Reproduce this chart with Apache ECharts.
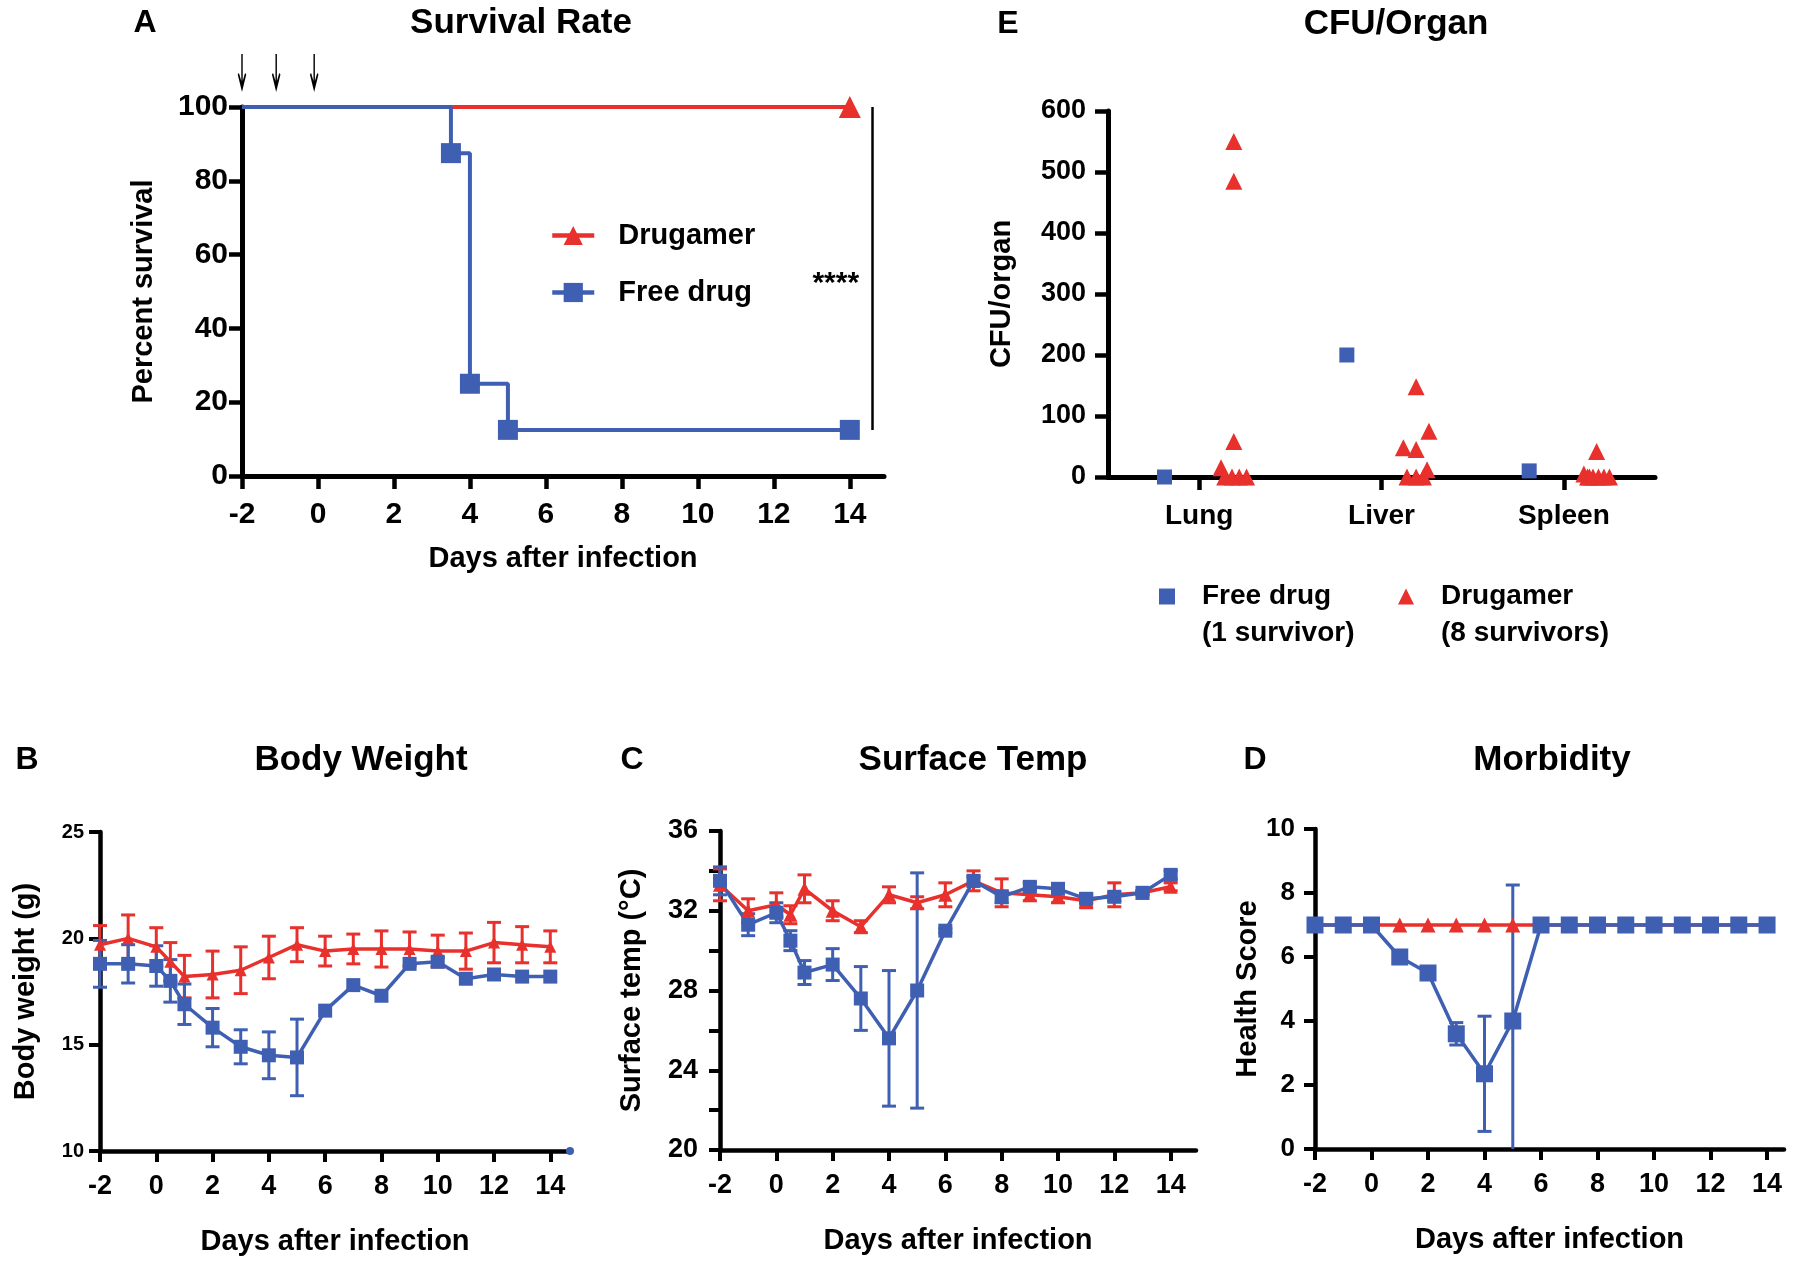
<!DOCTYPE html>
<html>
<head>
<meta charset="utf-8">
<title>Drugamer vs free drug</title>
<script src="https://cdn.jsdelivr.net/npm/echarts@6/dist/echarts.min.js"></script>
<style>
  html, body { margin: 0; padding: 0; background: #fff; }
  #chart { width: 1800px; height: 1265px; }
</style>
</head>
<body>
<div id="chart"></div>
<script>
var RED = '#e8302c';
var BLUE = '#3e5fb2';
var FONT = '"Liberation Sans", Arial, sans-serif';

// A - survival (Kaplan-Meier steps)
var survivalDrugamer = [[-2, 100], [14, 100]];
var survivalFreeDrug = [[-2, 100], [3.5, 87.5], [4, 25], [5, 12.5], [14, 12.5]];
var doseDays = [-2, -1.1, -0.1];
var evenDays = [-2, 0, 2, 4, 6, 8, 10, 12, 14];

// B / C - measured days
var days = [-2, -1, 0, 0.5, 1, 2, 3, 4, 5, 6, 7, 8, 9, 10, 11, 12, 13, 14];

var weightDrugamer = [19.7, 20.0, 19.6, 18.9, 18.2, 18.3, 18.5, 19.1, 19.7, 19.4, 19.5, 19.5, 19.5, 19.4, 19.4, 19.8, 19.7, 19.6];
var weightDrugamerSd = [0.9, 1.1, 0.9, 0.9, 1.0, 1.1, 1.1, 1.0, 0.8, 0.7, 0.7, 0.85, 0.8, 0.75, 0.85, 0.95, 0.85, 0.75];
var weightFreeDrug = [18.8, 18.8, 18.7, 18.0, 16.9, 15.8, 14.9, 14.5, 14.4, 16.6, 17.8, 17.3, 18.8, 18.9, 18.1, 18.3, 18.2, 18.2];
var weightFreeDrugSd = [1.1, 0.9, 0.95, 1.0, 0.95, 0.9, 0.8, 1.1, 1.8, 0, 0, 0, 0, 0.2, 0, 0, 0, 0];
var weightEndDot = [[14.7, 10]];

var tempDrugamer = [33.3, 32.0, 32.3, 31.8, 33.1, 32.0, 31.2, 32.8, 32.4, 32.8, 33.5, 32.9, 32.8, 32.7, 32.5, 32.8, 32.9, 33.2];
var tempDrugamerSd = [0.8, 0.6, 0.6, 0.45, 0.7, 0.5, 0.3, 0.4, 0.3, 0.6, 0.5, 0.7, 0.3, 0.3, 0.35, 0.6, 0.1, 0.2];
var tempFreeDrug = [33.5, 31.3, 31.9, 30.5, 28.9, 29.3, 27.6, 25.6, 28.0, 31.0, 33.5, 32.7, 33.2, 33.1, 32.6, 32.7, 32.9, 33.8];
var tempFreeDrugSd = [0.7, 0.55, 0.5, 0.5, 0.6, 0.8, 1.6, 3.4, 5.9, 0.1, 0.2, 0.3, 0.2, 0.2, 0.2, 0.2, 0.1, 0.2];

// D - health score
var scoreDays = [-2, -1, 0, 1, 2, 3, 4, 5, 6, 7, 8, 9, 10, 11, 12, 13, 14];
var scoreDrugamer = [7, 7, 7, 7, 7, 7, 7, 7, 7, 7, 7, 7, 7, 7, 7, 7, 7];
var scoreFreeDrug = [7, 7, 7, 6.0, 5.5, 3.6, 2.35, 4.0, 7, 7, 7, 7, 7, 7, 7, 7, 7];
var scoreFreeDrugSd = [0, 0, 0, 0, 0, 0.35, 1.8, 4.25, 0, 0, 0, 0, 0, 0, 0, 0, 0];

// E - CFU per organ
var organs = ['Lung', 'Liver', 'Spleen'];
var cfuFreeDrug = [0, 200, 10];
var cfuFreeDrugShift = [-0.19, -0.19, -0.19];
var cfuDrugamer = [
  [550, 485, 58, 15, 0, 0, 0, 0],
  [148, 75, 48, 45, 12, 0, 0, 0],
  [42, 5, 0, 0, 0, 0, 0, 0]
];
var cfuDrugamerShift = [
  [0.19, 0.19, 0.19, 0.12, 0.14, 0.18, 0.22, 0.26],
  [0.19, 0.26, 0.12, 0.19, 0.25, 0.14, 0.19, 0.23],
  [0.18, 0.11, 0.13, 0.16, 0.19, 0.22, 0.25, 0.14]
];

function pairs(xs, ys) {
  return xs.map(function (x, i) { return [x, ys[i]]; });
}

function errorBars(xs, ys, sds) {
  var out = [];
  xs.forEach(function (x, i) {
    if (sds[i] > 0) out.push([x, ys[i] - sds[i], ys[i] + sds[i]]);
  });
  return out;
}

function renderErrorBar(params, api) {
  var x = api.value(0);
  var lo = api.coord([x, api.value(1)]);
  var hi = api.coord([x, api.value(2)]);
  var bottom = params.coordSys.y + params.coordSys.height;
  var half = 7;
  var style = { stroke: api.visual('color'), lineWidth: 3, fill: null };
  var children = [
    { type: 'line', shape: { x1: hi[0], y1: hi[1], x2: hi[0], y2: Math.min(lo[1], bottom) }, style: style },
    { type: 'line', shape: { x1: hi[0] - half, y1: hi[1], x2: hi[0] + half, y2: hi[1] }, style: style }
  ];
  if (lo[1] <= bottom) {
    children.push({ type: 'line', shape: { x1: lo[0] - half, y1: lo[1], x2: lo[0] + half, y2: lo[1] }, style: style });
  }
  return { type: 'group', children: children };
}

function bold(size) {
  return { fontSize: size, fontWeight: 'bold', color: '#000', fontFamily: FONT };
}

function axisParts(lineWidth, tickLen) {
  return {
    axisLine: { show: true, onZero: false, lineStyle: { color: '#000', width: lineWidth } },
    axisTick: { show: true, length: tickLen, lineStyle: { color: '#000', width: lineWidth - 0.5 } },
    splitLine: { show: false }
  };
}

function dayAxis(gridIndex, max, nameGap, labelMargin, labelSize, lineWidth, tickLen) {
  var a = axisParts(lineWidth, tickLen);
  a.type = 'value';
  a.gridIndex = gridIndex;
  a.min = -2;
  a.max = max;
  a.name = 'Days after infection';
  a.nameLocation = 'middle';
  a.nameGap = nameGap;
  a.nameTextStyle = bold(29);
  a.axisTick.customValues = evenDays;
  a.axisLabel = Object.assign({ customValues: evenDays, margin: labelMargin }, bold(labelSize));
  return a;
}

function valueAxis(gridIndex, name, min, max, interval, nameGap, labelMargin, labelSize, lineWidth, tickLen) {
  var a = axisParts(lineWidth, tickLen);
  a.type = 'value';
  a.gridIndex = gridIndex;
  a.min = min;
  a.max = max;
  a.interval = interval;
  a.name = name;
  a.nameLocation = 'middle';
  a.nameGap = nameGap;
  a.nameTextStyle = bold(29);
  a.axisLabel = Object.assign({ margin: labelMargin }, bold(labelSize));
  return a;
}

function meanLine(name, xi, yi, data, color, symbol, size) {
  return {
    name: name, type: 'line', xAxisIndex: xi, yAxisIndex: yi,
    data: data, symbol: symbol, symbolSize: size, showSymbol: true,
    lineStyle: { color: color, width: 3.5 },
    itemStyle: { color: color },
    z: 3
  };
}

function errSeries(name, xi, yi, data, color) {
  return {
    name: name, type: 'custom', xAxisIndex: xi, yAxisIndex: yi,
    renderItem: renderErrorBar, data: data,
    encode: { x: 0, y: [1, 2] },
    itemStyle: { color: color },
    z: 2
  };
}

var chart = echarts.init(document.getElementById('chart'));

var firstNoSymbol = function (p, i) { return i === 0 ? { value: p, symbol: 'none' } : p; };

var cfuFreeDrugPoints = organs.map(function (o, i) {
  return [i + 0.5 + cfuFreeDrugShift[i], cfuFreeDrug[i]];
});
var cfuDrugamerPoints = [];
cfuDrugamer.forEach(function (vals, i) {
  vals.forEach(function (v, j) {
    cfuDrugamerPoints.push([i + 0.5 + cfuDrugamerShift[i][j], v]);
  });
});

var organTicks = [0.5, 1.5, 2.5];

var eXAxis = axisParts(5, 13);
eXAxis.type = 'value';
eXAxis.gridIndex = 1;
eXAxis.min = 0;
eXAxis.max = 3;
eXAxis.axisTick.customValues = organTicks;
eXAxis.axisLabel = Object.assign({
  customValues: organTicks, margin: 25,
  formatter: function (v) { return organs[Math.round(v - 0.5)]; }
}, bold(28));

var titles = [
  ['A', 145, 7, 32], ['Survival Rate', 521, 6, 35],
  ['E', 1008, 8, 32], ['CFU/Organ', 1396, 7, 35],
  ['B', 27, 744, 32], ['Body Weight', 361, 743, 35],
  ['C', 632, 744, 32], ['Surface Temp', 973, 743, 35],
  ['D', 1255, 744, 32], ['Morbidity', 1552, 743, 35]
].map(function (t) {
  return { text: t[0], left: t[1], top: t[2], textAlign: 'center', padding: 0, textStyle: bold(t[3]) };
});

var option = {
  animation: false,
  backgroundColor: '#fff',
  title: titles,
  legend: [
    {
      data: ['Drugamer', 'Free drug'],
      orient: 'vertical', left: 550, top: 221, padding: 0,
      itemWidth: 42, itemHeight: 24, itemGap: 28,
      lineStyle: { width: 4.5 },
      textStyle: Object.assign({ padding: [0, 0, 0, 19] }, bold(29))
    },
    {
      data: [{ name: 'Free drug', icon: 'rect' }],
      left: 1159, top: 541, padding: 0,
      itemWidth: 16, itemHeight: 16,
      formatter: function () { return '\nFree drug\n(1 survivor)'; },
      textStyle: Object.assign({ lineHeight: 37, padding: [0, 0, 0, 22] }, bold(28))
    },
    {
      data: [{ name: 'Drugamer', icon: 'triangle' }],
      left: 1398, top: 541, padding: 0,
      itemWidth: 16, itemHeight: 16,
      formatter: function () { return '\nDrugamer\n(8 survivors)'; },
      textStyle: Object.assign({ lineHeight: 37, padding: [0, 0, 0, 22] }, bold(28))
    }
  ],
  grid: [
    { left: 242, top: 107, width: 642, height: 369 },
    { left: 1108, top: 111, width: 547, height: 366 },
    { left: 100, top: 832, width: 470, height: 319 },
    { left: 720, top: 831, width: 476, height: 319 },
    { left: 1315, top: 829, width: 469, height: 320 }
  ],
  xAxis: [
    dayAxis(0, 14.9, 68, 24, 30, 5, 13),
    eXAxis,
    dayAxis(2, 14.7, 76, 22, 27, 4.5, 11),
    dayAxis(3, 14.9, 76, 22, 27, 4.5, 11),
    dayAxis(4, 14.6, 76, 22, 27, 4.5, 11)
  ],
  yAxis: [
    valueAxis(0, 'Percent survival', 0, 100, 20, 84, 14, 30, 5, 13),
    valueAxis(1, 'CFU/organ', 0, 600, 100, 92, 22, 27, 5, 13),
    valueAxis(2, 'Body weight (g)', 10, 25, 5, 60, 16, 20, 4.5, 11),
    (function () {
      var a = valueAxis(3, 'Surface temp (\u00b0C)', 20, 36, 2, 74, 22, 27, 4.5, 11);
      a.axisLabel.customValues = [20, 24, 28, 32, 36];
      return a;
    })(),
    valueAxis(4, 'Health Score', 0, 10, 2, 50, 20, 26, 4.5, 11)
  ],
  series: [
    // A
    {
      name: 'Drugamer', type: 'line', xAxisIndex: 0, yAxisIndex: 0,
      data: survivalDrugamer.map(firstNoSymbol), step: 'end',
      symbol: 'triangle', symbolSize: 22,
      lineStyle: { color: RED, width: 4 }, itemStyle: { color: RED }, z: 3,
      markLine: {
        silent: true, symbol: ['none', 'none'], label: { show: false },
        lineStyle: { color: '#000', width: 2.5, type: 'solid' },
        data: [[{ coord: [14.6, 100] }, { coord: [14.6, 12.5] }]]
      },
      markPoint: {
        silent: true, symbol: 'circle', symbolSize: 0,
        label: Object.assign({ show: true, position: 'inside', formatter: '****' }, bold(30)),
        data: [{ coord: [13.63, 52] }]
      }
    },
    {
      name: 'Free drug', type: 'line', xAxisIndex: 0, yAxisIndex: 0,
      data: survivalFreeDrug.map(firstNoSymbol), step: 'end',
      symbol: 'rect', symbolSize: 20,
      lineStyle: { color: BLUE, width: 4 }, itemStyle: { color: BLUE }, z: 4
    },
    {
      name: 'doses', type: 'scatter', xAxisIndex: 0, yAxisIndex: 0,
      data: doseDays.map(function (d) { return [d, 100]; }),
      symbol: 'path://M7.5,0 H10.5 V27 L15.5,19 L18,20.5 L9,38 L0,20.5 L2.5,19 L7.5,27 Z',
      symbolSize: [18, 38], symbolKeepAspect: true, symbolOffset: [0, -34],
      itemStyle: { color: '#000', opacity: 1 }, clip: false, silent: true
    },
    // E
    {
      name: 'Free drug', type: 'scatter', xAxisIndex: 1, yAxisIndex: 1,
      data: cfuFreeDrugPoints, symbol: 'rect', symbolSize: 15,
      itemStyle: { color: BLUE, opacity: 1 }, clip: false, z: 3
    },
    {
      name: 'Drugamer', type: 'scatter', xAxisIndex: 1, yAxisIndex: 1,
      data: cfuDrugamerPoints, symbol: 'triangle', symbolSize: 17,
      itemStyle: { color: RED, opacity: 1 }, clip: false, z: 3
    },
    // B
    errSeries('Drugamer SD', 2, 2, errorBars(days, weightDrugamer, weightDrugamerSd), RED),
    meanLine('Drugamer', 2, 2, pairs(days, weightDrugamer), RED, 'triangle', 12),
    errSeries('Free drug SD', 2, 2, errorBars(days, weightFreeDrug, weightFreeDrugSd), BLUE),
    meanLine('Free drug', 2, 2, pairs(days, weightFreeDrug), BLUE, 'rect', 14),
    {
      name: 'Free drug', type: 'scatter', xAxisIndex: 2, yAxisIndex: 2,
      data: weightEndDot, symbol: 'circle', symbolSize: 8,
      itemStyle: { color: BLUE, opacity: 1 }, clip: false, z: 3
    },
    // C
    errSeries('Drugamer SD', 3, 3, errorBars(days, tempDrugamer, tempDrugamerSd), RED),
    meanLine('Drugamer', 3, 3, pairs(days, tempDrugamer), RED, 'triangle', 14),
    errSeries('Free drug SD', 3, 3, errorBars(days, tempFreeDrug, tempFreeDrugSd), BLUE),
    meanLine('Free drug', 3, 3, pairs(days, tempFreeDrug), BLUE, 'rect', 14),
    // D
    meanLine('Drugamer', 4, 4, pairs(scoreDays, scoreDrugamer), RED, 'triangle', 15),
    errSeries('Free drug SD', 4, 4, errorBars(scoreDays, scoreFreeDrug, scoreFreeDrugSd), BLUE),
    meanLine('Free drug', 4, 4, pairs(scoreDays, scoreFreeDrug), BLUE, 'rect', 17)
  ]
};

chart.setOption(option);
</script>
</body>
</html>
